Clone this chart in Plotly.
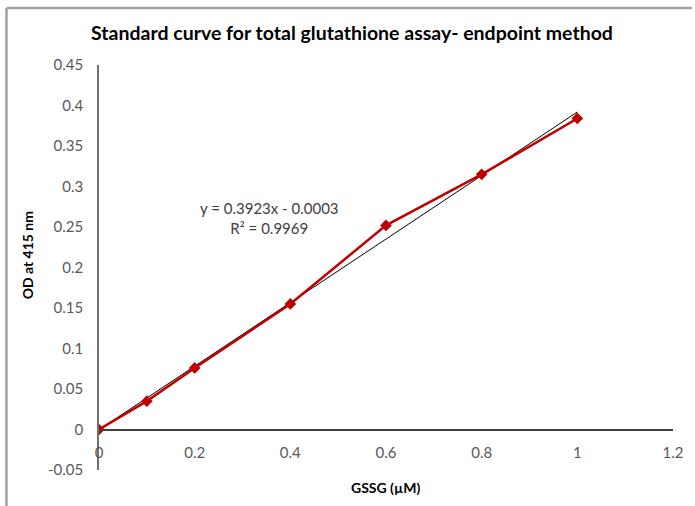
import plotly.graph_objects as go

# Data
gssg_um = [0, 0.1, 0.2, 0.4, 0.6, 0.8, 1.0]
od_415 = [0.0, 0.035, 0.076, 0.155, 0.252, 0.315, 0.384]
trend_slope = 0.3923
trend_intercept = -0.0003
trend_x = [0, 1.0]
x_ticks = [0, 0.2, 0.4, 0.6, 0.8, 1, 1.2]
x_tick_labels = ["0", "0.2", "0.4", "0.6", "0.8", "1", "1.2"]
y_ticks = [-0.05, 0, 0.05, 0.1, 0.15, 0.2, 0.25, 0.3, 0.35, 0.4, 0.45]
y_tick_labels = ["-0.05", "0", "0.05", "0.1", "0.15", "0.2", "0.25", "0.3", "0.35", "0.4", "0.45"]

W, H = 695, 506
L, R, T, B = 99, 19, 65, 36
pw, ph = W - L - R, H - T - B

def px_x(p):
    return (p - L) / pw

def px_y(p):
    return (H - B - p) / ph

FONT = "Lato"
fig = go.Figure()

fig.add_trace(go.Scatter(
    x=trend_x, y=[trend_slope * v + trend_intercept for v in trend_x],
    mode="lines", line=dict(color="black", width=1), hoverinfo="skip",
    showlegend=False))

fig.add_trace(go.Scatter(
    x=gssg_um, y=od_415, mode="lines+markers",
    line=dict(color="#c00000", width=2.5),
    marker=dict(symbol="diamond", size=9, color="#c00000"),
    showlegend=False))

fig.update_layout(
    width=W, height=H,
    margin=dict(l=L, r=R, t=T, b=B),
    paper_bgcolor="white", plot_bgcolor="white",
    font=dict(family=FONT, size=15, color="#595959"),
    title=dict(text="<b>Standard curve for total glutathione assay- endpoint method</b>",
               x=352 / W, xanchor="center",
               y=1 - 33 / H, yanchor="middle",
               font=dict(family=FONT, size=19.5, color="black")),
    xaxis=dict(range=[0, 1.2], tickvals=x_ticks, ticktext=x_tick_labels,
               showgrid=False, zeroline=False, showline=True,
               linecolor="#404040", linewidth=1.5, ticks="",
               anchor="free", position=0.1, ticklabelstandoff=10,
               tickfont=dict(size=15, color="#595959")),
    yaxis=dict(range=[-0.05, 0.45], tickvals=y_ticks, ticktext=y_tick_labels,
               showgrid=False, zeroline=False, showline=True,
               linecolor="#707070", linewidth=1.5, ticks="",
               ticklabelstandoff=11,
               tickfont=dict(size=15, color="#595959")),
    showlegend=False,
)

fig.add_annotation(x=px_x(27), y=px_y(255), xref="paper", yref="paper",
                   xanchor="center", yanchor="middle",
                   text="<b>OD at 415 nm</b>", textangle=-90, showarrow=False,
                   font=dict(family=FONT, size=14, color="black"))
fig.add_annotation(x=px_x(387), y=px_y(487), xref="paper", yref="paper",
                   xanchor="center", yanchor="middle",
                   text="<b>GSSG (µM)</b>", showarrow=False,
                   font=dict(family=FONT, size=14, color="black"))
fig.add_annotation(x=px_x(270), y=px_y(218), xref="paper", yref="paper",
                   xanchor="center", yanchor="middle",
                   text="y = 0.3923x - 0.0003<br>R² = 0.9969", showarrow=False,
                   align="center",
                   font=dict(family=FONT, size=15, color="#404040"))

# outer chart frame
for x0, y0, x1, y1 in [(6, 8, 6, H), (6, 8, W, 8)]:
    fig.add_shape(type="line", xref="paper", yref="paper",
                  x0=px_x(x0), y0=px_y(y0), x1=px_x(x1), y1=px_y(y1),
                  line=dict(color="#a0a0a0", width=2.5))

fig.write_html("out.html")
